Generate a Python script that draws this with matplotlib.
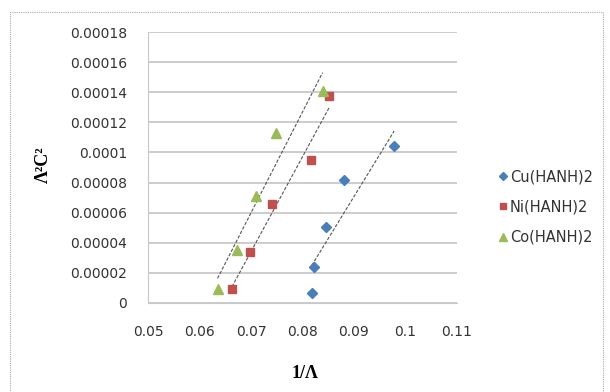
import matplotlib.pyplot as plt
from matplotlib.patches import Rectangle
import numpy as np

# 1/Lambda vs Lambda^2 C^2 for the three complexes
cu_x = [0.0818, 0.0823, 0.0845, 0.0881, 0.0978]
cu_y = [0.0000065, 0.0000242, 0.0000504, 0.000082, 0.000104]
ni_x = [0.0663, 0.0699, 0.0741, 0.0817, 0.0852]
ni_y = [0.0000093, 0.0000338, 0.000066, 0.0000953, 0.0001376]
co_x = [0.0635, 0.0672, 0.0709, 0.0749, 0.0839]
co_y = [0.0000093, 0.0000349, 0.0000709, 0.000113, 0.000141]

names = ["Cu(HANH)2", "Ni(HANH)2", "Co(HANH)2"]
x_ticks = [0.05, 0.06, 0.07, 0.08, 0.09, 0.1, 0.11]
x_labels = ["0.05", "0.06", "0.07", "0.08", "0.09", "0.1", "0.11"]
y_ticks = [0, 0.00002, 0.00004, 0.00006, 0.00008, 0.0001, 0.00012, 0.00014, 0.00016, 0.00018]
y_labels = ["0", "0.00002", "0.00004", "0.00006", "0.00008", "0.0001",
            "0.00012", "0.00014", "0.00016", "0.00018"]

fig = plt.figure(figsize=(6.1, 3.92), dpi=100)
ax = fig.add_axes([148/610, 1-303/392, 309/610, 271/392])

# outer chart border
fig.patches.append(Rectangle((10/610, -0.05), 593/610, 1-12/392+0.05,
                             transform=fig.transFigure, fill=False,
                             edgecolor="#aaaaaa", lw=0.8, ls=(0, (1, 1))))

styles = [("D", "#4a7ebb", 5.5), ("s", "#c0504d", 5.5), ("^", "#9bbb59", 7)]
series = [(cu_x, cu_y), (ni_x, ni_y), (co_x, co_y)]

for (xs, ys), (m, c, ms), name in zip(series, styles, names):
    ax.plot(xs, ys, ls="none", marker=m, color=c, markersize=ms, label=name, zorder=3)
    # linear trend line over the data range
    k, b = np.polyfit(xs, ys, 1)
    xx = np.array([min(xs), max(xs)])
    ax.plot(xx, k*xx + b, color="#555555", lw=0.8, ls=(0, (3, 1.5)), zorder=2)

ax.set_xlim(0.05, 0.11)
ax.set_ylim(0, 0.00018)
ax.set_xticks(x_ticks)
ax.set_xticklabels(x_labels)
ax.set_yticks(y_ticks)
ax.set_yticklabels(y_labels)
ax.tick_params(length=0, labelsize=10, labelcolor="#333333")
ax.tick_params(axis="x", pad=16)
ax.tick_params(axis="y", pad=15)
ax.yaxis.grid(True, color="#cccccc", lw=1.4)
ax.set_axisbelow(True)
for s in ["top", "right"]:
    ax.spines[s].set_visible(False)
for s in ["left", "bottom"]:
    ax.spines[s].set_color("#c8c8c8")

fig.text(305/610, 1-373/392, "1/\u039b", ha="center", va="center",
         family="Liberation Serif", weight="bold", fontsize=13)
fig.text(43/610, 1-165/392, "\u039b\u00b2C\u00b2", ha="center", va="center",
         rotation=90, family="Liberation Serif", weight="bold", fontsize=13)

ax.legend(loc="center left", bbox_to_anchor=(486/610, 1-207/392),
          bbox_transform=fig.transFigure, frameon=False, fontsize=10.5,
          handlelength=0.5, handletextpad=0.25, labelspacing=1.05,
          markerscale=0.8, labelcolor="#333333")

fig.savefig("out.png", dpi=100)
